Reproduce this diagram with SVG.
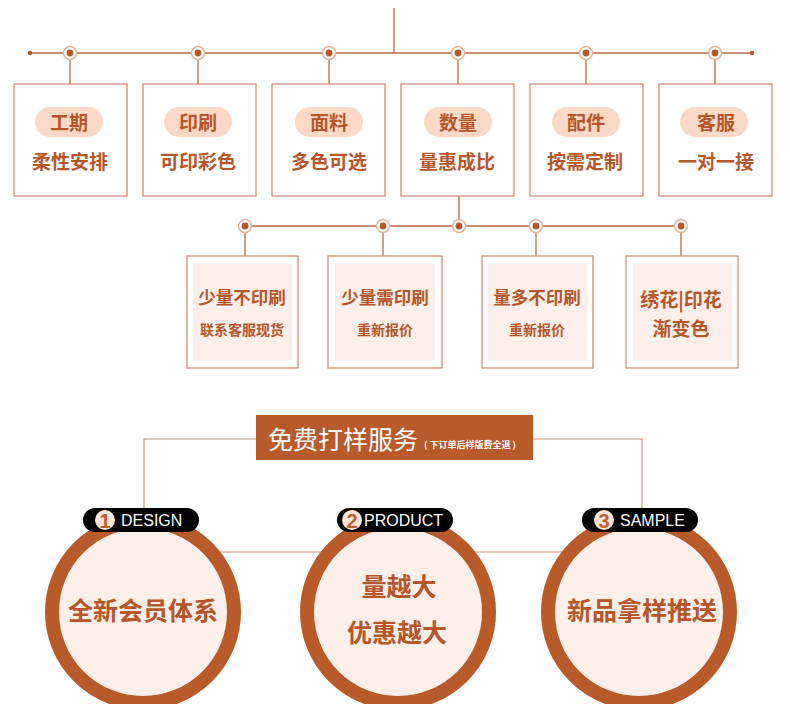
<svg xmlns="http://www.w3.org/2000/svg" width="790" height="704" viewBox="0 0 790 704">
<defs>
<style>
.ln{stroke:#b46d48;stroke-width:1.3;fill:none}
.lnl{stroke:#c89378;stroke-width:1.2;fill:none}
.box{fill:#ffffff;stroke:#c89378;stroke-width:1.3}
.inner{fill:#fcefe9}
.pill{fill:#fcd9c6}
.t{font-family:"Noto Sans CJK SC","Noto Sans",sans-serif;font-weight:700;fill:#b5562b;text-anchor:middle;dominant-baseline:central}
.mo{fill:#ffffff;stroke:#e6b59a;stroke-width:1.5}
.mi{fill:#b4572c}
.ring{fill:#fcefe9;stroke:#b95a2b;stroke-width:14}
.bp{fill:#000000}
.nc{fill:#fde6d8}
.num{font-family:"Liberation Sans",Arial,sans-serif;font-size:20px;font-weight:700;fill:#c0602f;text-anchor:middle;dominant-baseline:central}
.en{font-family:"Liberation Sans",Arial,sans-serif;font-size:16px;fill:#ffffff;dominant-baseline:central}
</style>
<g id="marker">
<circle class="mo" r="6.5"/>
<circle class="mi" r="3.4"/>
</g>
</defs>
<rect width="790" height="704" fill="#ffffff"/>

<g id="connectors">
<line class="ln" x1="394" y1="8" x2="394" y2="53"/>
<line class="ln" x1="30" y1="53" x2="752" y2="53"/>
<circle cx="30" cy="53" r="2.3" fill="#b4572c"/>
<circle cx="752" cy="53" r="2.3" fill="#b4572c"/>
<line class="ln" x1="70" y1="53" x2="70" y2="84"/>
<line class="ln" x1="198" y1="53" x2="198" y2="84"/>
<line class="ln" x1="329" y1="53" x2="329" y2="84"/>
<line class="ln" x1="458" y1="53" x2="458" y2="84"/>
<line class="ln" x1="586" y1="53" x2="586" y2="84"/>
<line class="ln" x1="715" y1="53" x2="715" y2="84"/>
<use href="#marker" x="70" y="53"/>
<use href="#marker" x="198" y="53"/>
<use href="#marker" x="329" y="53"/>
<use href="#marker" x="458" y="53"/>
<use href="#marker" x="586" y="53"/>
<use href="#marker" x="715" y="53"/>

<line class="ln" x1="459" y1="196" x2="459" y2="226"/>
<line class="ln" x1="245" y1="226" x2="681" y2="226"/>
<line class="ln" x1="245" y1="226" x2="245" y2="256"/>
<line class="ln" x1="383" y1="226" x2="383" y2="256"/>
<line class="ln" x1="536" y1="226" x2="536" y2="256"/>
<line class="ln" x1="681" y1="226" x2="681" y2="256"/>
<use href="#marker" x="245" y="226"/>
<use href="#marker" x="383" y="226"/>
<use href="#marker" x="459" y="226"/>
<use href="#marker" x="536" y="226"/>
<use href="#marker" x="681" y="226"/>

<polyline class="lnl" points="256,439 144,439 144,508"/>
<polyline class="lnl" points="533,439 642,439 642,508"/>
<line class="lnl" x1="143" y1="552" x2="639" y2="552"/>
</g>

<g id="node-gongqi">
<rect class="box" x="14" y="84" width="113" height="112"/>
<rect class="pill" x="35" y="107" width="68" height="30" rx="15"/>
<text class="t" x="69" y="121" font-size="19">工期</text>
<text class="t" x="70" y="160" font-size="19">柔性安排</text>
</g>
<g id="node-yinshua">
<rect class="box" x="143" y="84" width="113" height="112"/>
<rect class="pill" x="164" y="107" width="68" height="30" rx="15"/>
<text class="t" x="198" y="121" font-size="19">印刷</text>
<text class="t" x="198" y="160" font-size="19">可印彩色</text>
</g>
<g id="node-mianliao">
<rect class="box" x="272" y="84" width="113" height="112"/>
<rect class="pill" x="295" y="107" width="68" height="30" rx="15"/>
<text class="t" x="329" y="121" font-size="19">面料</text>
<text class="t" x="329" y="160" font-size="19">多色可选</text>
</g>
<g id="node-shuliang">
<rect class="box" x="401" y="84" width="113" height="112"/>
<rect class="pill" x="424" y="107" width="68" height="30" rx="15"/>
<text class="t" x="458" y="121" font-size="19">数量</text>
<text class="t" x="457" y="160" font-size="19">量惠成比</text>
</g>
<g id="node-peijian">
<rect class="box" x="530" y="84" width="113" height="112"/>
<rect class="pill" x="552" y="107" width="68" height="30" rx="15"/>
<text class="t" x="586" y="121" font-size="19">配件</text>
<text class="t" x="585" y="160" font-size="19">按需定制</text>
</g>
<g id="node-kefu">
<rect class="box" x="659" y="84" width="113" height="112"/>
<rect class="pill" x="680" y="107" width="68" height="30" rx="15"/>
<text class="t" x="716" y="121" font-size="19">客服</text>
<text class="t" x="716" y="160" font-size="19">一对一接</text>
</g>

<g id="node-a">
<rect class="box" x="187" y="256" width="111" height="112"/>
<rect class="inner" x="193" y="264" width="99" height="96"/>
<text class="t" x="242" y="296" font-size="17.5">少量不印刷</text>
<text class="t" x="242" y="329" font-size="14">联系客服现货</text>
</g>
<g id="node-b">
<rect class="box" x="328" y="256" width="114" height="112"/>
<rect class="inner" x="335" y="264" width="100" height="96"/>
<text class="t" x="385" y="296" font-size="17.5">少量需印刷</text>
<text class="t" x="385" y="329" font-size="14">重新报价</text>
</g>
<g id="node-c">
<rect class="box" x="482" y="256" width="111" height="112"/>
<rect class="inner" x="488" y="264" width="99" height="96"/>
<text class="t" x="537" y="296" font-size="17.5">量多不印刷</text>
<text class="t" x="537" y="329" font-size="14">重新报价</text>
</g>
<g id="node-d">
<rect class="box" x="626" y="256" width="112" height="112"/>
<rect class="inner" x="633" y="264" width="99" height="96"/>
<text class="t" x="681" y="298" font-size="19">绣花|印花</text>
<text class="t" x="681" y="327" font-size="19">渐变色</text>
</g>

<g id="banner">
<rect x="256" y="415" width="277" height="45" fill="#b95a2b"/>
<text x="268" y="438" font-family="Noto Sans CJK SC,sans-serif" font-size="25" fill="#ffffff" dominant-baseline="central">免费打样服务</text>
<text x="424" y="444" font-family="Noto Sans CJK SC,sans-serif" font-size="9" font-weight="700" fill="#ffffff" dominant-baseline="central">( 下订单后样版费全退 )</text>
</g>

<g id="circle-design">
<circle class="ring" cx="143" cy="612" r="91"/>
<text class="t" x="143" y="609" font-size="25">全新会员体系</text>
<rect class="bp" x="83" y="508" width="116" height="24" rx="12"/>
<circle class="nc" cx="105" cy="520" r="10"/>
<text class="num" x="105" y="521">1</text>
<text class="en" x="121" y="520">DESIGN</text>
</g>
<g id="circle-product">
<circle class="ring" cx="398" cy="612" r="91"/>
<text class="t" x="399" y="585" font-size="25">量越大</text>
<text class="t" x="397" y="631" font-size="25">优惠越大</text>
<rect class="bp" x="337" y="508" width="116" height="24" rx="12"/>
<circle class="nc" cx="352" cy="520" r="10"/>
<text class="num" x="352" y="521">2</text>
<text class="en" x="364" y="520">PRODUCT</text>
</g>
<g id="circle-sample">
<circle class="ring" cx="639" cy="612" r="91"/>
<text class="t" x="642" y="609" font-size="25">新品拿样推送</text>
<rect class="bp" x="582" y="508" width="116" height="24" rx="12"/>
<circle class="nc" cx="604" cy="520" r="10"/>
<text class="num" x="604" y="521">3</text>
<text class="en" x="620" y="520">SAMPLE</text>
</g>
</svg>
